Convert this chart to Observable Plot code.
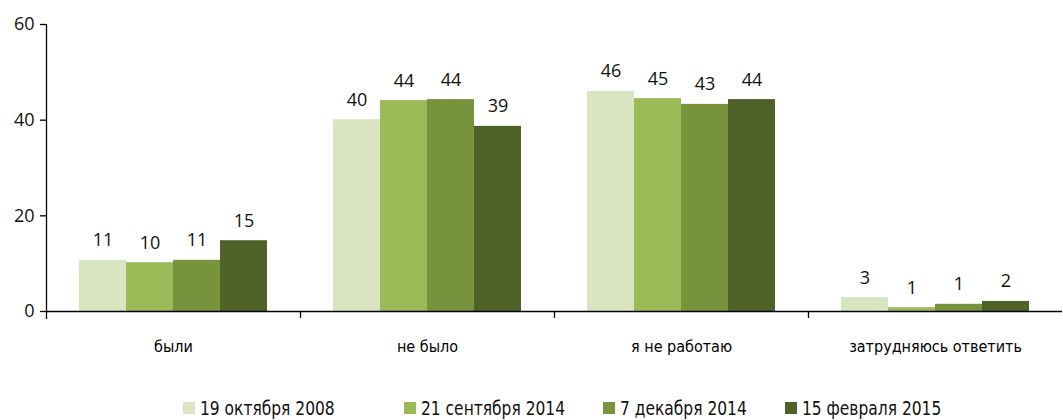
<!DOCTYPE html>
<html><head><meta charset="utf-8">
<script src="https://cdn.jsdelivr.net/npm/d3@7"></script>
<script src="https://cdn.jsdelivr.net/npm/@observablehq/plot@0.6"></script>
<style>
body{margin:0;background:#fff;}
#chart{position:relative;width:1063px;height:420px;overflow:hidden;}
#chart svg{display:block;}
#legend{position:absolute;top:397px;left:0;width:1063px;height:22px;font-family:"DejaVu Sans Condensed",sans-serif;font-size:20px;color:#111;}
.item{position:absolute;top:0;display:flex;align-items:center;white-space:nowrap;line-height:22px;}
.sw{width:12px;height:12px;margin-right:5px;flex:none;}
.item span{display:inline-block;transform:scaleX(0.86);transform-origin:left center;}
</style></head><body><div id="chart"></div>
<script>
const categories = ["были", "не было", "я не работаю", "затрудняюсь ответить"];
const seriesNames = ["19 октября 2008", "21 сентября 2014", "7 декабря 2014", "15 февраля 2015"];
const seriesColors = ["#d9e4c1", "#9bbb59", "#77933c", "#4f6228"];
const oct2008 = [10.7, 40.1, 46.0, 2.9];
const sep2014 = [10.2, 44.1, 44.5, 0.8];
const dec2014 = [10.7, 44.3, 43.3, 1.5];
const feb2015 = [14.8, 38.7, 44.3, 2.1];
const labels2008 = [11, 40, 46, 3];
const labelsSep2014 = [10, 44, 45, 1];
const labelsDec2014 = [11, 44, 43, 1];
const labelsFeb2015 = [15, 39, 44, 2];
const yTicks = [0, 20, 40, 60];

const seriesValues = [oct2008, sep2014, dec2014, feb2015];
const seriesLabels = [labels2008, labelsSep2014, labelsDec2014, labelsFeb2015];
const rows = [];
categories.forEach((c, j) => seriesNames.forEach((s, i) => rows.push({category: c, series: s, value: seriesValues[i][j], label: seriesLabels[i][j]})));

const W = 1063, H = 392;
const chart = Plot.plot({
  width: W, height: H,
  marginLeft: 45, marginRight: 0, marginTop: 24, marginBottom: 81,
  style: {fontFamily: "'Open Sans', sans-serif", fontSize: "18px", color: "#111", background: "#fff"},
  fx: {domain: categories, padding: 0, label: null},
  x: {domain: seriesNames, paddingInner: 0, paddingOuter: 0.7, axis: null},
  y: {domain: [0, 60], axis: null, label: null},
  color: {domain: seriesNames, range: seriesColors},
  marks: [
    Plot.barY(rows, {fx: "category", x: "series", y: "value", fill: "series"}),
    Plot.text(rows, {fx: "category", x: "series", y: "value", text: "label", lineAnchor: "bottom", dy: -14, fontSize: 18, fill: "#111"}),
    Plot.ruleY([0], {stroke: "#000", strokeWidth: 1.3}),
    Plot.axisY(yTicks, {label: null, tickSize: 6, tickPadding: 6, fontSize: 18, stroke: "#000", strokeWidth: 1.3, fill: "#111"}),
    Plot.axisFx({anchor: "bottom", label: null, tickSize: 0, tickPadding: 29, fontSize: 16, fontFamily: "'DejaVu Sans Condensed', sans-serif", fill: "#000"})
  ]
});
document.getElementById("chart").appendChild(chart);

// axis line and category separator ticks, from the plot's own scales
const fx = chart.scale("fx"), y = chart.scale("y");
const svg = d3.select(chart);
const x0 = fx.apply(categories[0]);
const y0 = y.apply(0);
const g = svg.append("g").attr("stroke", "#000").attr("stroke-width", 1.3);
g.append("line").attr("x1", x0 + 0.5).attr("x2", x0 + 0.5).attr("y1", y.apply(60)).attr("y2", y0 + 8);
categories.slice(1).forEach(c => {
  const xx = Math.round(fx.apply(c)) + 0.5;
  g.append("line").attr("x1", xx).attr("x2", xx).attr("y1", y0).attr("y2", y0 + 7);
});

// legend
const legendLeft = [183, 404, 603, 785];
const legend = d3.select("#chart").append("div").attr("id", "legend");
seriesNames.forEach((s, i) => {
  const it = legend.append("div").attr("class", "item").style("left", legendLeft[i] + "px");
  it.append("div").attr("class", "sw").style("background", seriesColors[i]);
  it.append("span").text(s);
});
</script></body></html>
